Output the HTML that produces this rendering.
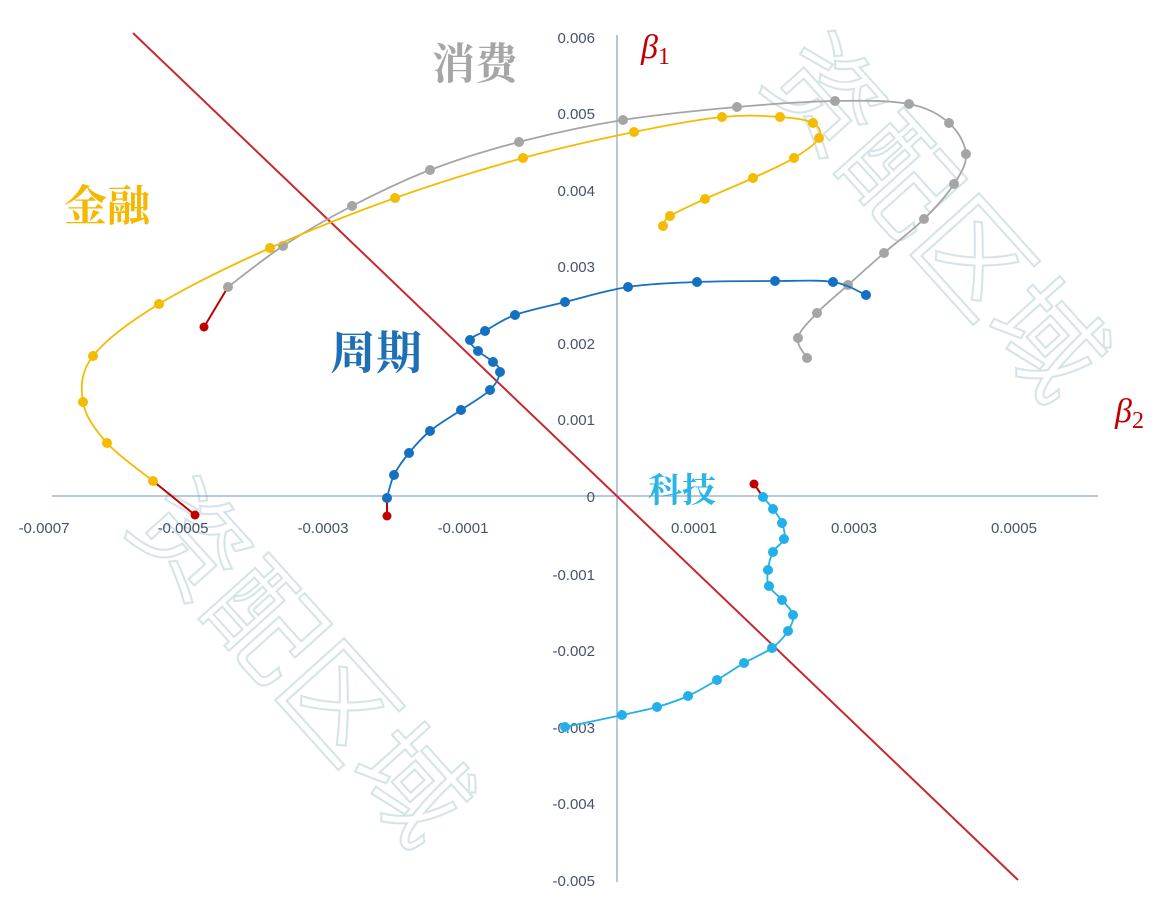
<!DOCTYPE html>
<html><head><meta charset="utf-8"><style>
html,body{margin:0;padding:0;background:#fff;}
svg{display:block;}
.t{font-family:"Liberation Sans","DejaVu Sans",sans-serif;font-size:15px;fill:#44546a;}
.cn{font-family:"Liberation Serif","Noto Serif CJK SC",serif;font-weight:bold;}
.wm{font-family:"Noto Sans CJK SC",sans-serif;font-size:110px;fill:none;stroke:#cfe0e6;stroke-width:2;}
.b{font-family:"Liberation Serif",serif;font-style:italic;fill:#c00000;}
</style></head><body>
<svg id="s" width="1173" height="906" viewBox="0 0 1173 906" xmlns="http://www.w3.org/2000/svg">
<g opacity="0.9">
<text class="wm" transform="translate(760,80) rotate(48)">资配区域</text>
<text class="wm" transform="translate(125,525) rotate(48)">资配区域</text>
</g>
<line x1="52" y1="496" x2="1098" y2="496" stroke="#8fa9c4" stroke-width="1.3"/>
<line x1="617" y1="35" x2="617" y2="882" stroke="#8fa9c4" stroke-width="1.3"/>
<line x1="133" y1="33" x2="1018" y2="880" stroke="#c8282e" stroke-width="2"/>
<g class="t" text-anchor="end">
<text x="595" y="43">0.006</text><text x="595" y="119">0.005</text><text x="595" y="196">0.004</text>
<text x="595" y="272">0.003</text><text x="595" y="349">0.002</text><text x="595" y="425">0.001</text>
<text x="595" y="502">0</text><text x="595" y="580">-0.001</text><text x="595" y="656">-0.002</text>
<text x="595" y="733">-0.003</text><text x="595" y="809">-0.004</text><text x="595" y="886">-0.005</text>
</g>
<g class="t" text-anchor="middle">
<text x="44" y="533">-0.0007</text><text x="183" y="533">-0.0005</text><text x="323" y="533">-0.0003</text>
<text x="463" y="533">-0.0001</text><text x="694" y="533">0.0001</text><text x="854" y="533">0.0003</text>
<text x="1014" y="533">0.0005</text>
</g>
<g id="series"></g>
<text class="cn" x="432" y="79" fill="#a6a6a6" font-size="43">消费</text>
<text class="cn" x="64" y="221" fill="#f5b800" font-size="43">金融</text>
<text class="cn" x="330" y="369" fill="#1f6fb5" font-size="46">周期</text>
<text class="cn" x="648" y="502" fill="#2bb4e6" font-size="34">科技</text>
<text class="b" x="641" y="58" font-size="34">β<tspan font-size="24" font-style="normal" dy="6">1</tspan></text>
<text class="b" x="1115" y="422" font-size="34">β<tspan font-size="24" font-style="normal" dy="6">2</tspan></text>
</svg>
<script>
var S=[
{c:"#a5a5a5",p:[[204,327],[228,287],[283,246],[352,206],[430,170],[519,142],[623,120],[737,107],[835,101],[909,104],[949,123],[966,154],[954,184],[924,219],[884,253],[848,285],[817,313],[798,338],[807,358]]},
{c:"#f5bb00",p:[[195,515],[153,481],[107,443],[83,402],[93,356],[159,304],[270,248],[395,198],[523,158],[634,132],[722,117],[780,117],[813,123],[819,138],[794,158],[753,178],[705,199],[670,216],[663,226]]},
{c:"#1470c0",p:[[387,516],[387,498],[394,475],[409,453],[430,431],[461,410],[490,390],[500,372],[493,362],[478,351],[470,340],[485,331],[515,315],[565,302],[628,287],[697,282],[775,281],[833,282],[866,295]]},
{c:"#22b0ea",p:[[754,484],[763,497],[773,509],[782,523],[784,539],[773,552],[768,570],[769,586],[782,600],[793,615],[788,631],[772,648],[744,663],[717,680],[688,696],[657,707],[622,715],[565,727]]}
];
var g=document.getElementById("series"),ns="http://www.w3.org/2000/svg";
S.forEach(function(s){
 var p=s.p,d="M"+p[1][0]+","+p[1][1];
 for(var i=1;i<p.length-1;i++){
  var p0=p[i-1>0?i-1:i],p1=p[i],p2=p[i+1],p3=p[i+2<p.length?i+2:i+1];
  var c1=[p1[0]+(p2[0]-p0[0])/6,p1[1]+(p2[1]-p0[1])/6],c2=[p2[0]-(p3[0]-p1[0])/6,p2[1]-(p3[1]-p1[1])/6];
  d+=" C"+c1+" "+c2+" "+p2;
 }
 var path=document.createElementNS(ns,"path");path.setAttribute("d",d);path.setAttribute("fill","none");
 path.setAttribute("stroke",s.c);path.setAttribute("stroke-width","1.8");g.appendChild(path);
 var l=document.createElementNS(ns,"line");l.setAttribute("x1",p[0][0]);l.setAttribute("y1",p[0][1]);
 l.setAttribute("x2",p[1][0]);l.setAttribute("y2",p[1][1]);l.setAttribute("stroke","#c00000");l.setAttribute("stroke-width","2");g.appendChild(l);
 p.forEach(function(q,i){var c=document.createElementNS(ns,"circle");c.setAttribute("cx",q[0]);c.setAttribute("cy",q[1]);
  c.setAttribute("r",i==0?4.5:5);c.setAttribute("fill",i==0?"#c00000":s.c);g.appendChild(c);});
});
</script>
</body></html>
